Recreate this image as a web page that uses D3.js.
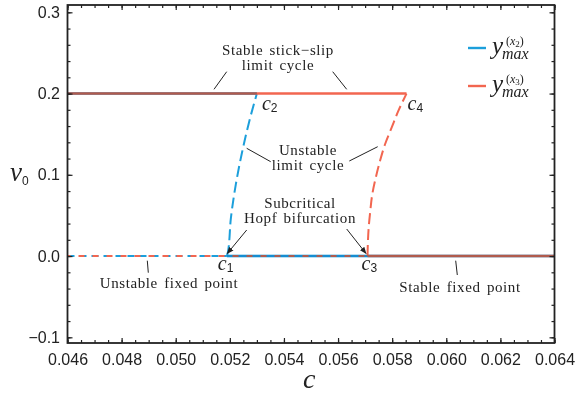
<!DOCTYPE html>
<html>
<head>
<meta charset="utf-8">
<script src="https://cdn.jsdelivr.net/npm/d3@7/dist/d3.min.js"></script>
<style>
  body { margin: 0; background: #fff; }
  .tick text { font-family: "Liberation Sans", Arial, sans-serif; font-size: 16px; fill: #222; }
  .note { font-family: "Liberation Serif", "Times New Roman", serif; font-size: 15px; fill: #222; letter-spacing: 0.6px; word-spacing: 2px; }
</style>
</head>
<body>
<div id="chart"></div>
<script>
// bifurcation points
var bifC = [0.05189, 0.05300, 0.05709, 0.05853];   // c1, c2, c3, c4
var cRange = [0.046, 0.064];
var cycleV = 0.2;
var fixedV = 0;

// unstable limit cycle branches
var x2UnstableC = [0.05189, 0.05193, 0.05204, 0.05222, 0.05246, 0.05275, 0.05300];
var x2UnstableV = [0, 0.005, 0.047, 0.088, 0.129, 0.170, 0.200];
var x3UnstableC = [0.05709, 0.05710, 0.05713, 0.05719, 0.05726, 0.05739, 0.05755, 0.05773, 0.05798, 0.05822, 0.05853];
var x3UnstableV = [0, 0.014, 0.034, 0.055, 0.075, 0.096, 0.117, 0.137, 0.158, 0.178, 0.200];

var xTicks = [0.046, 0.048, 0.050, 0.052, 0.054, 0.056, 0.058, 0.060, 0.062, 0.064];
var yTicks = [-0.1, 0.0, 0.1, 0.2, 0.3];

var width = 583, height = 395;
var margin = { top: 5, right: 28.5, bottom: 52, left: 67.5 };
var w = width - margin.left - margin.right;
var h = height - margin.top - margin.bottom;

var blue = "#1c9fdb", red = "#f26650";

var svg = d3.select("#chart").append("svg")
  .attr("width", width).attr("height", height);
var g = svg.append("g")
  .attr("transform", "translate(" + margin.left + "," + margin.top + ")");

var x = d3.scaleLinear().domain(cRange).range([0, w]);
var y = d3.scaleLinear().domain([-0.107, 0.309]).range([h, 0]);

var line = d3.line().x(function (d) { return x(d[0]); }).y(function (d) { return y(d[1]); });
var curve = d3.line().curve(d3.curveMonotoneY)
  .x(function (d) { return x(d[0]); }).y(function (d) { return y(d[1]); });

function zip(a, b) { return a.map(function (v, i) { return [v, b[i]]; }); }

// one entry per drawn piece: [points, colour, dash, smooth]
var bluePieces = [
  [[[cRange[0], cycleV], [bifC[1], cycleV]], blue, null, false],
  [zip(x2UnstableC, x2UnstableV), blue, "11,5", true],
  [[[cRange[0], fixedV], [bifC[0], fixedV]], blue, "7,5", false],
  [[[bifC[0], fixedV], [cRange[1], fixedV]], blue, null, false]
];
var redPieces = [
  [[[cRange[0], cycleV], [bifC[3], cycleV]], red, null, false],
  [zip(x3UnstableC, x3UnstableV), red, "11,5", true],
  [[[cRange[0], fixedV], [bifC[2], fixedV]], red, "6,8", false],
  [[[bifC[2], fixedV], [cRange[1], fixedV]], red, null, false]
];

function draw(p) {
  return g.append("path")
    .attr("d", (p[3] ? curve : line)(p[0]))
    .attr("fill", "none")
    .attr("stroke", p[1])
    .attr("stroke-width", p[2] ? 2 : 2.6)
    .attr("stroke-dasharray", p[2])
    .attr("stroke-dashoffset", p[2] === "6,8" ? 3 : 0);
}
bluePieces.forEach(function (p) { draw(p); });
redPieces.forEach(function (p) { draw(p); });
// where the stable x2 branches lie under x3, they tint the red line darker
bluePieces.filter(function (p) { return !p[2]; }).forEach(function (p) {
  draw(p).style("mix-blend-mode", "multiply").attr("stroke-opacity", 0.3);
});

// axes, ticks pointing inward
var xMinor = d3.range(0.046, 0.06401, 0.0005);
var yMinor = d3.range(-0.1, 0.3001, 0.02);

function styleAxis(sel) {
  sel.select(".domain").remove();
  sel.selectAll(".tick line").attr("stroke", "#222").attr("stroke-width", 1.2);
}

g.append("g").attr("transform", "translate(0," + h + ")")
  .call(d3.axisBottom(x).tickValues(xTicks).tickSize(-5).tickPadding(10.5).tickFormat(d3.format(".3f")))
  .call(styleAxis);
g.append("g").attr("transform", "translate(0," + h + ")")
  .call(d3.axisBottom(x).tickValues(xMinor).tickSize(-3).tickFormat(""))
  .call(styleAxis);
g.append("g")
  .call(d3.axisTop(x).tickValues(xTicks).tickSize(-5).tickFormat(""))
  .call(styleAxis);
g.append("g")
  .call(d3.axisTop(x).tickValues(xMinor).tickSize(-3).tickFormat(""))
  .call(styleAxis);

g.append("g")
  .call(d3.axisLeft(y).tickValues(yTicks).tickSize(-5).tickPadding(7.5)
    .tickFormat(function (d) { return d3.format(".1f")(d).replace("-", "\u2212"); }))
  .call(styleAxis);
g.append("g")
  .call(d3.axisLeft(y).tickValues(yMinor).tickSize(-3).tickFormat(""))
  .call(styleAxis);
g.append("g").attr("transform", "translate(" + w + ",0)")
  .call(d3.axisRight(y).tickValues(yTicks).tickSize(-5).tickFormat(""))
  .call(styleAxis);
g.append("g").attr("transform", "translate(" + w + ",0)")
  .call(d3.axisRight(y).tickValues(yMinor).tickSize(-3).tickFormat(""))
  .call(styleAxis);

g.append("rect")
  .attr("width", w).attr("height", h)
  .attr("fill", "none").attr("stroke", "#222").attr("stroke-width", 1.8);

// axis titles
var ital = '"Liberation Serif", "Times New Roman", serif';
svg.append("text").attr("x", 303).attr("y", 388)
  .style("font-family", ital).style("font-style", "italic").style("font-size", "28px").attr("fill", "#222")
  .text("c");

var vt = svg.append("text").attr("x", 10).attr("y", 181)
  .style("font-family", ital).style("font-style", "italic").style("font-size", "27px").attr("fill", "#222");
vt.append("tspan").text("v");
vt.append("tspan").attr("dy", 4).style("font-style", "normal")
  .style("font-family", '"Liberation Sans", Arial, sans-serif').style("font-size", "12px").text("0");

// c_i labels
var cLabels = [
  { n: "1", c: bifC[0], v: fixedV, dx: -9, dy: 14 },
  { n: "2", c: bifC[1], v: cycleV, dx: 5, dy: 16 },
  { n: "3", c: bifC[2], v: fixedV, dx: -6, dy: 14 },
  { n: "4", c: bifC[3], v: cycleV, dx: 1, dy: 16 }
];
cLabels.forEach(function (d) {
  var t = g.append("text")
    .attr("x", x(d.c) + d.dx).attr("y", y(d.v) + d.dy)
    .style("font-family", ital).style("font-size", "20px").attr("fill", "#222");
  t.append("tspan").style("font-style", "italic").text("c");
  t.append("tspan").attr("dy", 2)
    .style("font-family", '"Liberation Sans", Arial, sans-serif').style("font-size", "12px").text(d.n);
});

// annotations
svg.append("defs").append("marker")
  .attr("id", "arr").attr("viewBox", "0 0 10 10").attr("refX", 9).attr("refY", 5)
  .attr("markerWidth", 7).attr("markerHeight", 7).attr("orient", "auto")
  .attr("markerUnits", "userSpaceOnUse")
  .append("path").attr("d", "M0,1 L10,5 L0,9 z").attr("fill", "#222");

var notes = [
  { lines: ["Stable stick\u2212slip", "limit cycle"], x: 278, y: 55 },
  { lines: ["Unstable", "limit cycle"], x: 308, y: 155 },
  { lines: ["Subcritical", "Hopf bifurcation"], x: 300, y: 208 },
  { lines: ["Unstable fixed point"], x: 169, y: 288 },
  { lines: ["Stable fixed point"], x: 460, y: 292 }
];
notes.forEach(function (n) {
  n.lines.forEach(function (s, i) {
    svg.append("text").attr("class", "note")
      .attr("x", n.x).attr("y", n.y + i * 15)
      .attr("text-anchor", "middle").text(s);
  });
});

var leaders = [
  [226.7, 71.7, 214, 89.3, false],
  [332.7, 71.7, 346.7, 89.3, false],
  [246.7, 148.3, 270.7, 161.7, false],
  [349.3, 161, 377.7, 146.7, false],
  [246.7, 230, 227.3, 253.5, true],
  [346.7, 229, 366, 253.5, true],
  [147.3, 260.7, 148.3, 272.7, false],
  [455.7, 260.7, 457.3, 275, false]
];
leaders.forEach(function (l) {
  svg.append("line")
    .attr("x1", l[0]).attr("y1", l[1]).attr("x2", l[2]).attr("y2", l[3])
    .attr("stroke", "#222").attr("stroke-width", 1)
    .attr("marker-end", l[4] ? "url(#arr)" : null);
});

// legend
var legend = [
  { color: blue, n: "2", y: 48 },
  { color: red, n: "3", y: 86 }
];
legend.forEach(function (d) {
  svg.append("line").attr("x1", 468).attr("x2", 486).attr("y1", d.y).attr("y2", d.y)
    .attr("stroke", d.color).attr("stroke-width", 2.4);
  var t = svg.append("text").attr("x", 492).attr("y", d.y + 6)
    .style("font-family", ital).style("font-style", "italic").style("font-size", "25px")
    .attr("fill", "#222");
  t.append("tspan").text("y");
  t.append("tspan").attr("x", 502).attr("y", d.y + 11).style("font-size", "16px").text("max");
  t.append("tspan").attr("x", 506).attr("y", d.y - 3).style("font-style", "normal").style("font-size", "12px").text("(");
  t.append("tspan").style("font-size", "12px").text("x");
  t.append("tspan").attr("dy", 2).style("font-style", "normal").style("font-size", "9px").text(d.n);
  t.append("tspan").attr("dy", -2).style("font-style", "normal").style("font-size", "12px").text(")");
});
</script>
</body>
</html>
